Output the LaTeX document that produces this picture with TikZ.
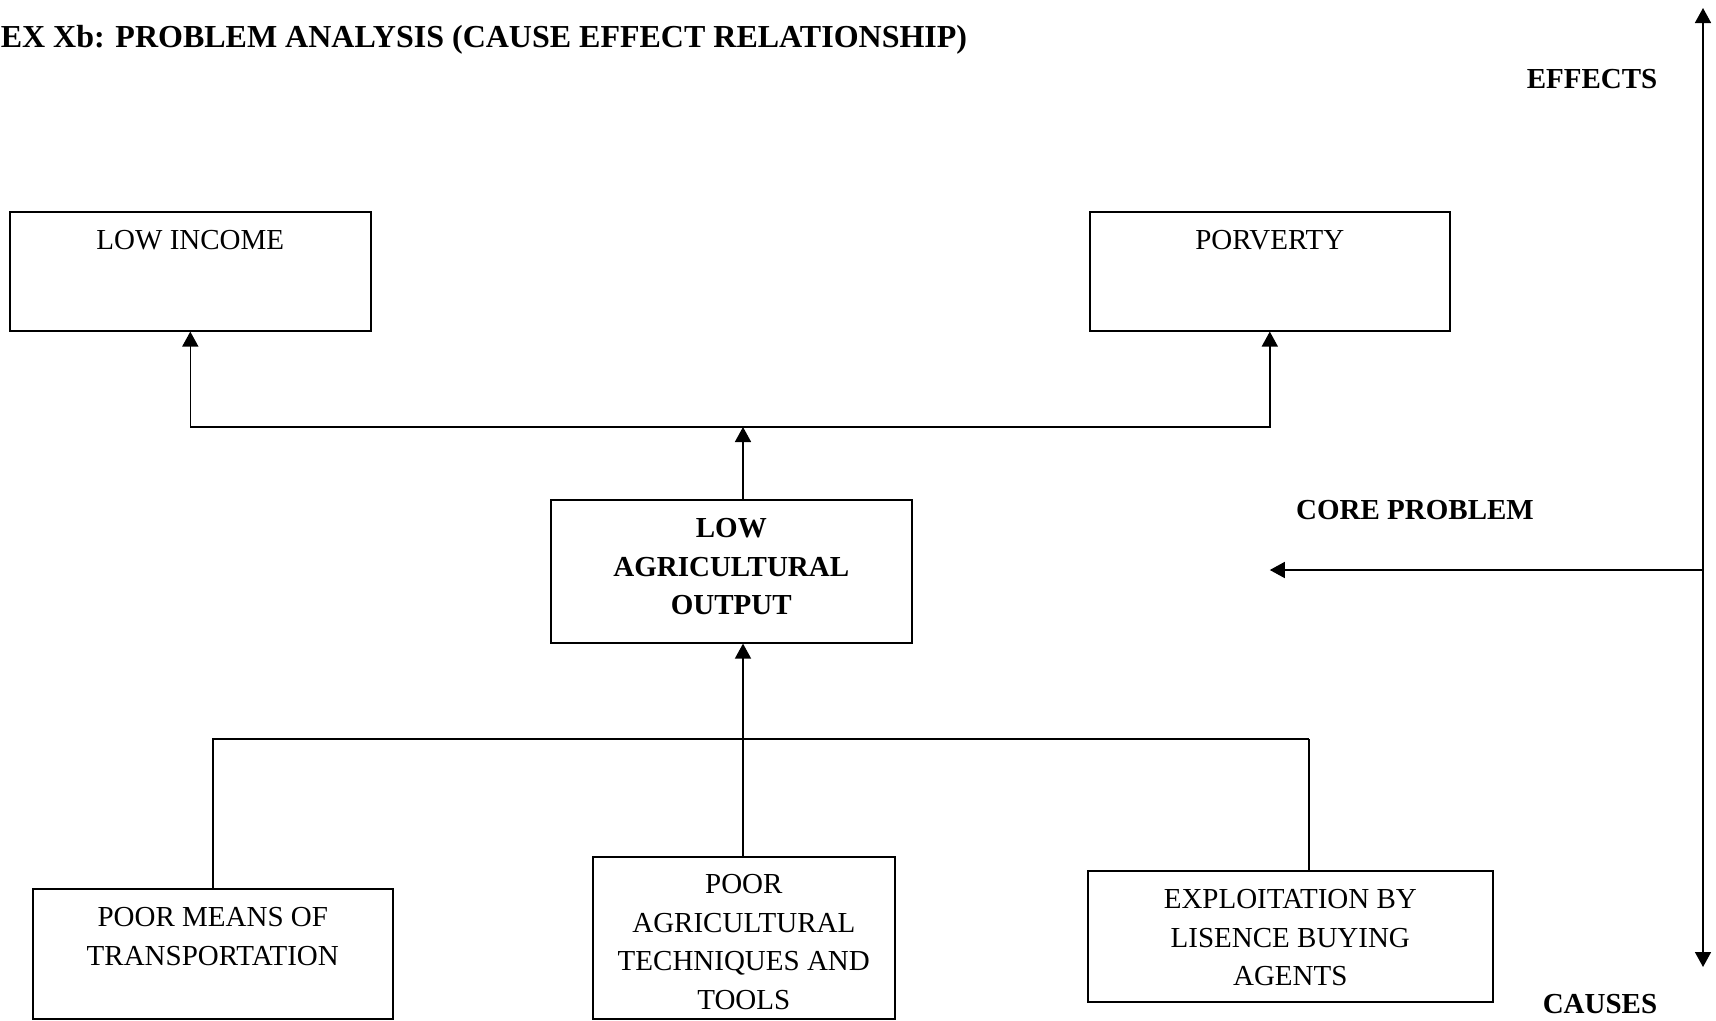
\documentclass[tikz,border=0pt]{standalone}
\usepackage{fontspec}
\setmainfont{Liberation Serif}
\usetikzlibrary{arrows.meta}
\begin{document}
\begin{tikzpicture}[x=1pt,y=-1pt,line width=1.6pt,
    >={Triangle[length=15pt,width=16pt]},
    every node/.style={font=\fontsize{29}{38.5}\selectfont,inner sep=0pt},
    box/.style={draw,align=center,anchor=north west},
    head/.style={font=\fontsize{29}{38.5}\selectfont\bfseries}]
      \useasboundingbox (0,0) rectangle (1716,1020);
      \node[head,anchor=base west,font=\fontsize{32}{38.5}\selectfont\bfseries] (title) at (0,47) {EX Xb: PROBLEM ANALYSIS (CAUSE EFFECT RELATIONSHIP)};
      \node[head,anchor=base] (eff) at (1592,88) {EFFECTS};
      \node[head,anchor=base] (cau) at (1600,1013) {CAUSES};
      \node[head,anchor=base] (cpl) at (1415,519) {CORE PROBLEM};
      \node[box,minimum width=361,text height=38,text depth=81] (inc) at (9,211) {LOW INCOME};
      \node[box,minimum width=360,text height=38,text depth=81] (pov) at (1089,211) {PORVERTY};
      \node[box,minimum width=361,text height=115,text depth=28,font=\fontsize{29}{38.5}\selectfont\bfseries] (core) at (550,499) {LOW\\AGRICULTURAL\\OUTPUT};
      \node[box,minimum width=360,text height=76.5,text depth=53.5] (trans) at (32,888) {POOR MEANS OF\\TRANSPORTATION};
      \node[box,minimum width=302,text height=152.5,text depth=9.5] (tech) at (592,856) {POOR\\AGRICULTURAL\\TECHNIQUES AND\\TOOLS};
      \node[box,minimum width=405,text height=115,text depth=16] (expl) at (1087,870) {EXPLOITATION BY\\LISENCE BUYING\\AGENTS};
      \coordinate (up) at (743,427);
      \coordinate (dn) at (743,739);
      \coordinate (ej) at (1309,739);
      \coordinate (axtop) at (1703,8);
      \coordinate (axbot) at (1703,967);
      \coordinate (axmid) at (1703,570);
      \draw[->] (core.north -| up) -- (up);
      \draw[->] (up) -| (inc.south);
      \draw[->] (up) -| (pov.south);
      \draw[->] (dn) -- (core.south -| dn);
      \draw (trans.north) |- (ej);
      \draw (ej) -- (ej |- expl.north);
      \draw (tech.north -| dn) -- (dn);
      \draw[<->] (axtop) -- (axbot);
      \draw[->] (axmid) -- (axmid -| pov.south);
    \end{tikzpicture}
\end{document}
